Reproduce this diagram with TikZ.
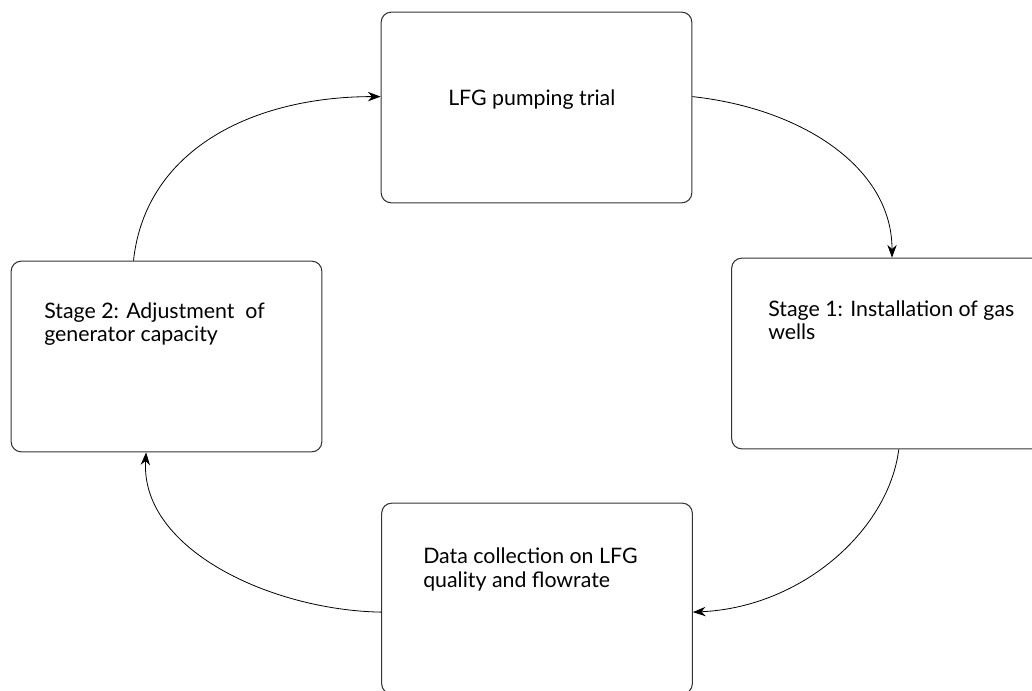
\documentclass[tikz,border=0pt]{standalone}
\usepackage{fontspec}
\setmainfont{Lato}
\usetikzlibrary{arrows.meta,shapes}
\tikzstyle{stagebox}=[rectangle,draw=black!80,line width=0.8pt,rounded corners=7.5pt,minimum width=233pt,minimum height=143pt,inner sep=0pt]
\tikzstyle{boxtext}=[anchor=base west,align=left,inner sep=0pt,font=\fontsize{16}{17.5}\selectfont]
\tikzstyle{flow} = [draw,line width=0.6pt,-{Stealth[length=9.5pt,width=7pt,inset=3pt]}]

\begin{document}
\begin{tikzpicture}[x=0.75pt,y=-0.75pt]
    \useasboundingbox (0,0) rectangle (1032,691);

     \foreach \x/\y/\name in {536.5/107.5/trial, 887/353.5/stageone, 166.5/356.5/stagetwo, 537/598.5/data}
        \node[stagebox] (\name) at (\x, \y) {};

    \node[boxtext] (trialtext) at (448,106) {LFG pumping trial};
    \node[boxtext] (stageonetext) at (768,340) {Stage 1: Installation of gas\\wells};
    \node[boxtext] (stagetwotext) at (44,342) {Stage 2: Adjustment~ of\\generator capacity};
    \node[boxtext] (datatext) at (423,587) {Data collection on LFG\\quality and flowrate};

    \path[flow] (trial.4) .. controls +(110,12) and +(0,-90) .. (stageone.87);
    \path[flow] (stageone.277) .. controls +(-10,80) and +(110,-5) .. (data.355);
    \path[flow] (data.185) .. controls +(-110,-2) and +(-6,97) .. (stagetwo.258);
    \path[flow] (stagetwo.109) .. controls +(12,-111) and +(-128,0) .. (trial.176);

\end{tikzpicture}
\end{document}
